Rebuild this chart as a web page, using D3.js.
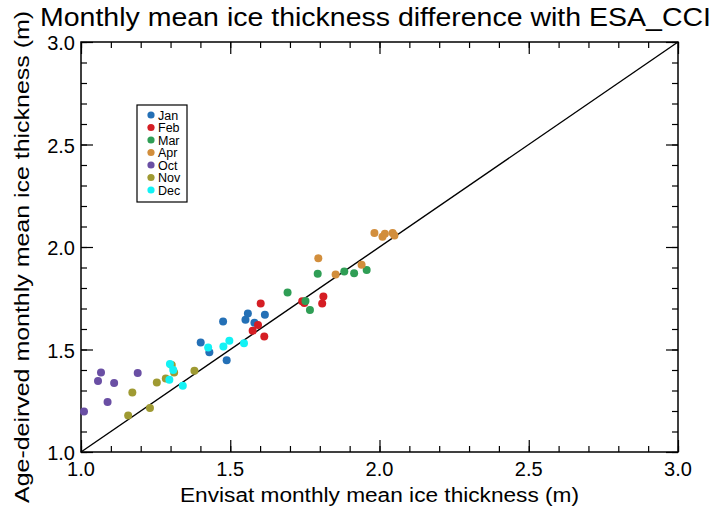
<!DOCTYPE html>
<html>
<head>
<meta charset="utf-8">
<script src="https://cdn.jsdelivr.net/npm/d3@7"></script>
<style>
	body { margin: 0; background: #fff; }
	svg { display: block; font-family: "Liberation Sans", Arial, sans-serif; }
</style>
</head>
<body>
<svg id="chart" width="718" height="519"></svg>
<script>
// month labels and marker colours, in plotting order
var months = ['Jan', 'Feb', 'Mar', 'Apr', 'Oct', 'Nov', 'Dec'];
var monthColors = ['#2470b6', '#d51e24', '#2f9e55', '#d28e3c', '#6a4fa4', '#9f9a32', '#12f2f5'];

// Envisat thickness (x) and age-derived thickness (y)
var janEnv = [1.401, 1.430, 1.476, 1.488, 1.551, 1.559, 1.581, 1.616];
var janAge = [1.534, 1.487, 1.637, 1.448, 1.645, 1.676, 1.630, 1.670];
var febEnv = [1.575, 1.593, 1.602, 1.614, 1.741, 1.748, 1.812, 1.808];
var febAge = [1.592, 1.620, 1.724, 1.564, 1.735, 1.727, 1.759, 1.724];
var marEnv = [1.692, 1.752, 1.767, 1.793, 1.882, 1.915, 1.957];
var marAge = [1.778, 1.737, 1.693, 1.870, 1.880, 1.872, 1.888];
var aprEnv = [1.795, 1.853, 1.940, 1.983, 2.010, 2.018, 2.044, 2.050];
var aprAge = [1.945, 1.866, 1.913, 2.068, 2.050, 2.065, 2.068, 2.056];
var octEnv = [1.010, 1.057, 1.067, 1.089, 1.111, 1.190];
var octAge = [1.197, 1.346, 1.388, 1.244, 1.336, 1.385];
var novEnv = [1.158, 1.172, 1.231, 1.254, 1.284, 1.304, 1.312, 1.380];
var novAge = [1.178, 1.290, 1.215, 1.339, 1.358, 1.425, 1.388, 1.396];
var decEnv = [1.298, 1.309, 1.296, 1.341, 1.426, 1.477, 1.497, 1.546];
var decAge = [1.429, 1.400, 1.352, 1.323, 1.510, 1.515, 1.543, 1.530];

var majorTicks = [1.0, 1.5, 2.0, 2.5, 3.0];
var minorTicks = d3.range(1.0, 3.0001, 0.1);

var envByMonth = [janEnv, febEnv, marEnv, aprEnv, octEnv, novEnv, decEnv];
var ageByMonth = [janAge, febAge, marAge, aprAge, octAge, novAge, decAge];

var points = [];
months.forEach(function(m, i) {
	envByMonth[i].forEach(function(v, j) {
		points.push({month: m, color: monthColors[i], x: v, y: ageByMonth[i][j]});
	});
});

var margin = {left: 81, right: 40, top: 42, bottom: 67};
var width = 718, height = 519;

var svg = d3.select('#chart');

var x = d3.scaleLinear().domain([1, 3]).range([margin.left, width - margin.right]);
var y = d3.scaleLinear().domain([1, 3]).range([height - margin.bottom, margin.top]);

// ===========================================================================================
// ticks on all four sides, minor every 0.1, major every 0.5
function tickGroup(axisFn, scale, values, size, transform) {
	svg.append('g')
		.attr('transform', transform)
		.call(axisFn(scale).tickValues(values).tickSize(size).tickFormat(''))
		.call(function(g) {
			g.select('.domain').remove();
			g.selectAll('line').attr('stroke', '#000').attr('stroke-width', 1.2);
		});
}
var x0 = x.range()[0], x1 = x.range()[1], y0 = y.range()[0], y1 = y.range()[1];

tickGroup(d3.axisTop, x, minorTicks, 6, 'translate(0,' + y0 + ')');
tickGroup(d3.axisTop, x, majorTicks, 12, 'translate(0,' + y0 + ')');
tickGroup(d3.axisBottom, x, minorTicks, 6, 'translate(0,' + y1 + ')');
tickGroup(d3.axisBottom, x, majorTicks, 12, 'translate(0,' + y1 + ')');
tickGroup(d3.axisRight, y, minorTicks, 6, 'translate(' + x0 + ',0)');
tickGroup(d3.axisRight, y, majorTicks, 12, 'translate(' + x0 + ',0)');
tickGroup(d3.axisLeft, y, minorTicks, 6, 'translate(' + x1 + ',0)');
tickGroup(d3.axisLeft, y, majorTicks, 12, 'translate(' + x1 + ',0)');

svg.append('rect')
	.attr('x', x0).attr('y', y1)
	.attr('width', x1 - x0).attr('height', y0 - y1)
	.attr('fill', 'none').attr('stroke', '#000').attr('stroke-width', 1.5);

// tick labels
var fmt = d3.format('.1f');
svg.append('g').selectAll('text')
	.data(majorTicks).enter().append('text')
	.attr('x', function(d) { return x(d); })
	.attr('y', y0 + 24)
	.attr('text-anchor', 'middle')
	.attr('font-size', 20)
	.text(fmt);

svg.append('g').selectAll('text')
	.data(majorTicks).enter().append('text')
	.attr('x', x0 - 6)
	.attr('y', function(d) { return y(d) + 8; })
	.attr('text-anchor', 'end')
	.attr('font-size', 20)
	.text(fmt);

// 1:1 line
svg.append('line')
	.attr('x1', x(1)).attr('y1', y(1))
	.attr('x2', x(3)).attr('y2', y(3))
	.attr('stroke', '#000').attr('stroke-width', 1.4);

// points
svg.append('g').selectAll('circle')
	.data(points).enter().append('circle')
	.attr('cx', function(d) { return x(d.x); })
	.attr('cy', function(d) { return y(d.y); })
	.attr('r', 4)
	.attr('fill', function(d) { return d.color; });

// ===========================================================================================
// legend
var legend = svg.append('g').attr('transform', 'translate(137,105)');
legend.append('rect')
	.attr('width', 50).attr('height', 97)
	.attr('fill', '#fff').attr('stroke', '#000').attr('stroke-width', 1.2);
var item = legend.selectAll('.legend-item')
	.data(months).enter().append('g')
	.attr('class', 'legend-item')
	.attr('transform', function(d, i) { return 'translate(0,' + (10 + i * 12.5) + ')'; });
item.append('circle')
	.attr('cx', 14).attr('cy', 0).attr('r', 3.6)
	.attr('fill', function(d, i) { return monthColors[i]; });
item.append('text')
	.attr('x', 21).attr('y', 4.5)
	.attr('font-size', 12.5)
	.text(function(d) { return d; });

// titles
svg.append('text')
	.attr('x', 40).attr('y', 26)
	.attr('font-size', 25)
	.attr('textLength', 671).attr('lengthAdjust', 'spacingAndGlyphs')
	.text('Monthly mean ice thickness difference with ESA_CCI');

svg.append('text')
	.attr('x', (x0 + x1) / 2).attr('y', 502)
	.attr('text-anchor', 'middle')
	.attr('font-size', 20)
	.attr('textLength', 399).attr('lengthAdjust', 'spacingAndGlyphs')
	.text('Envisat monthly mean ice thickness (m)');

svg.append('text')
	.attr('transform', 'translate(29,257) rotate(-90)')
	.attr('text-anchor', 'middle')
	.attr('font-size', 20)
	.attr('textLength', 492).attr('lengthAdjust', 'spacingAndGlyphs')
	.text('Age-deirved monthly mean ice thickness (m)');
</script>
</body>
</html>
